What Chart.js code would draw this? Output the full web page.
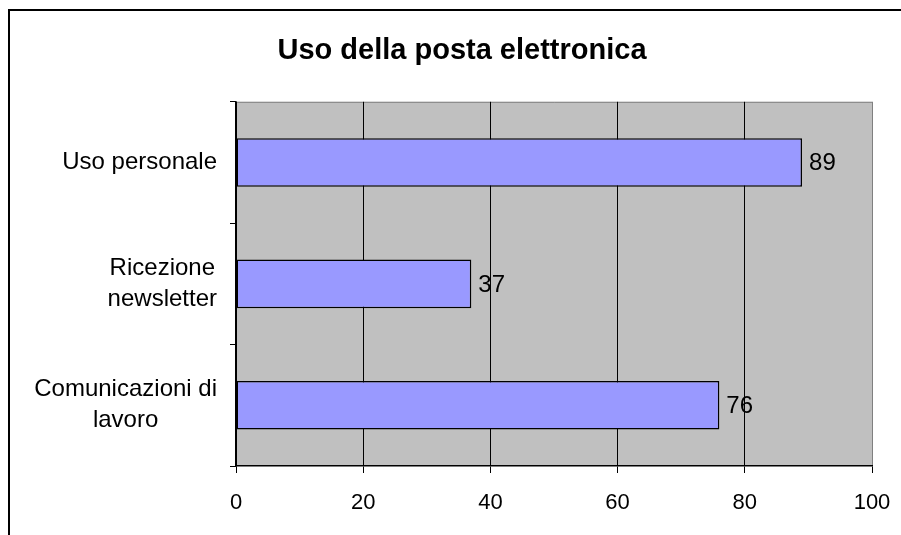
<!DOCTYPE html>
<html>
  <head>
    <style>
      body {
        margin: 0;
        background: #fff;
        overflow: hidden;
        font-family: "Liberation Sans", Arial, sans-serif;
      }
      .frame {
        position: absolute;
        left: 8px;
        top: 9px;
        width: 1000px;
        height: 1000px;
        border: 2px solid #000;
      }
      .wrap {
        position: absolute;
        left: 0;
        top: 0;
        width: 901px;
        height: 535px;
      }
    </style>
    <script src="https://cdn.jsdelivr.net/npm/chart.js"></script>
  </head>
  <body>
    <div class="frame"></div>
    <div class="wrap">
      <canvas id="emailChart" width="901" height="535"></canvas>
    </div>
    <script>
      var categories = [['Uso personale'], ['Ricezione', 'newsletter'], ['Comunicazioni di', 'lavoro']];
      var values = [89, 37, 76];
      var xTicks = [0, 20, 40, 60, 80, 100];

      var FONT = '"Liberation Sans", Arial, sans-serif';

      // grey plot background + grey top/right frame
      var plotBackground = {
        id: 'plotBackground',
        beforeDraw: function(chart) {
          var a = chart.chartArea, ctx = chart.ctx;
          ctx.save();
          ctx.fillStyle = '#C0C0C0';
          ctx.fillRect(a.left, a.top, a.right - a.left, a.bottom - a.top);
          ctx.strokeStyle = '#808080';
          ctx.lineWidth = 1;
          ctx.beginPath();
          ctx.moveTo(a.left, a.top + 0.5);
          ctx.lineTo(a.right + 0.5, a.top + 0.5);
          ctx.lineTo(a.right + 0.5, a.bottom);
          ctx.stroke();
          ctx.restore();
        }
      };

      // category labels, lines centred within each block
      var categoryLabels = {
        id: 'categoryLabels',
        afterDraw: function(chart) {
          var ctx = chart.ctx, y = chart.scales.y;
          ctx.save();
          ctx.font = '24px ' + FONT;
          ctx.fillStyle = '#000';
          ctx.textAlign = 'center';
          ctx.textBaseline = 'middle';
          var lineH = 31;
          categories.forEach(function(lines, i) {
            var w = 0;
            lines.forEach(function(l) { w = Math.max(w, ctx.measureText(l).width); });
            var cx = y.right - 19 - w / 2;
            var cy = y.getPixelForValue(i);
            var start = cy - (lines.length - 1) * lineH / 2;
            lines.forEach(function(l, j) {
              ctx.fillText(l, cx, start + j * lineH);
            });
          });
          ctx.restore();
        }
      };

      // value labels at the bar ends
      var valueLabels = {
        id: 'valueLabels',
        afterDatasetsDraw: function(chart) {
          var ctx = chart.ctx;
          var meta = chart.getDatasetMeta(0);
          ctx.save();
          ctx.font = '24px ' + FONT;
          ctx.fillStyle = '#000';
          ctx.textAlign = 'left';
          ctx.textBaseline = 'middle';
          meta.data.forEach(function(bar, i) {
            ctx.fillText(String(values[i]), bar.x + 7, bar.y + 1);
          });
          ctx.restore();
        }
      };

      new Chart(document.getElementById('emailChart'), {
        type: 'bar',
        data: {
          labels: categories,
          datasets: [{
            data: values,
            backgroundColor: '#9999FF',
            borderColor: '#000',
            borderWidth: 1.5,
            borderSkipped: false,
            categoryPercentage: 0.4,
            barPercentage: 1
          }]
        },
        options: {
          indexAxis: 'y',
          responsive: false,
          animation: false,
          layout: { padding: { left: 52, right: 29, top: 0, bottom: 0 } },
          plugins: {
            legend: { display: false },
            tooltip: { enabled: false },
            title: {
              display: true,
              text: 'Uso della posta elettronica',
              color: '#000',
              font: { family: FONT, size: 29, weight: 'bold' },
              padding: { top: 34, bottom: 33 }
            }
          },
          scales: {
            x: {
              min: 0,
              max: 100,
              afterBuildTicks: function(scale) {
                scale.ticks = xTicks.map(function(v) { return { value: v }; });
              },
              afterFit: function(scale) {
                scale.height = 69;
                scale.paddingLeft = 0;
                scale.paddingRight = 0;
              },
              grid: {
                color: function(c) { return c.tick && c.tick.value === 100 ? '#808080' : '#000'; },
                lineWidth: 1,
                tickLength: 7,
                tickColor: '#000'
              },
              border: { color: '#000', width: 1.5 },
              ticks: {
                color: '#000',
                padding: 17,
                font: { family: FONT, size: 22 }
              }
            },
            y: {
              afterFit: function(scale) { scale.width = 184; },
              grid: {
                offset: true,
                drawOnChartArea: false,
                tickLength: 6,
                tickColor: '#000'
              },
              border: { color: '#000', width: 1.5 },
              ticks: { display: false }
            }
          }
        },
        plugins: [plotBackground, categoryLabels, valueLabels]
      });
    </script>
  </body>
</html>
